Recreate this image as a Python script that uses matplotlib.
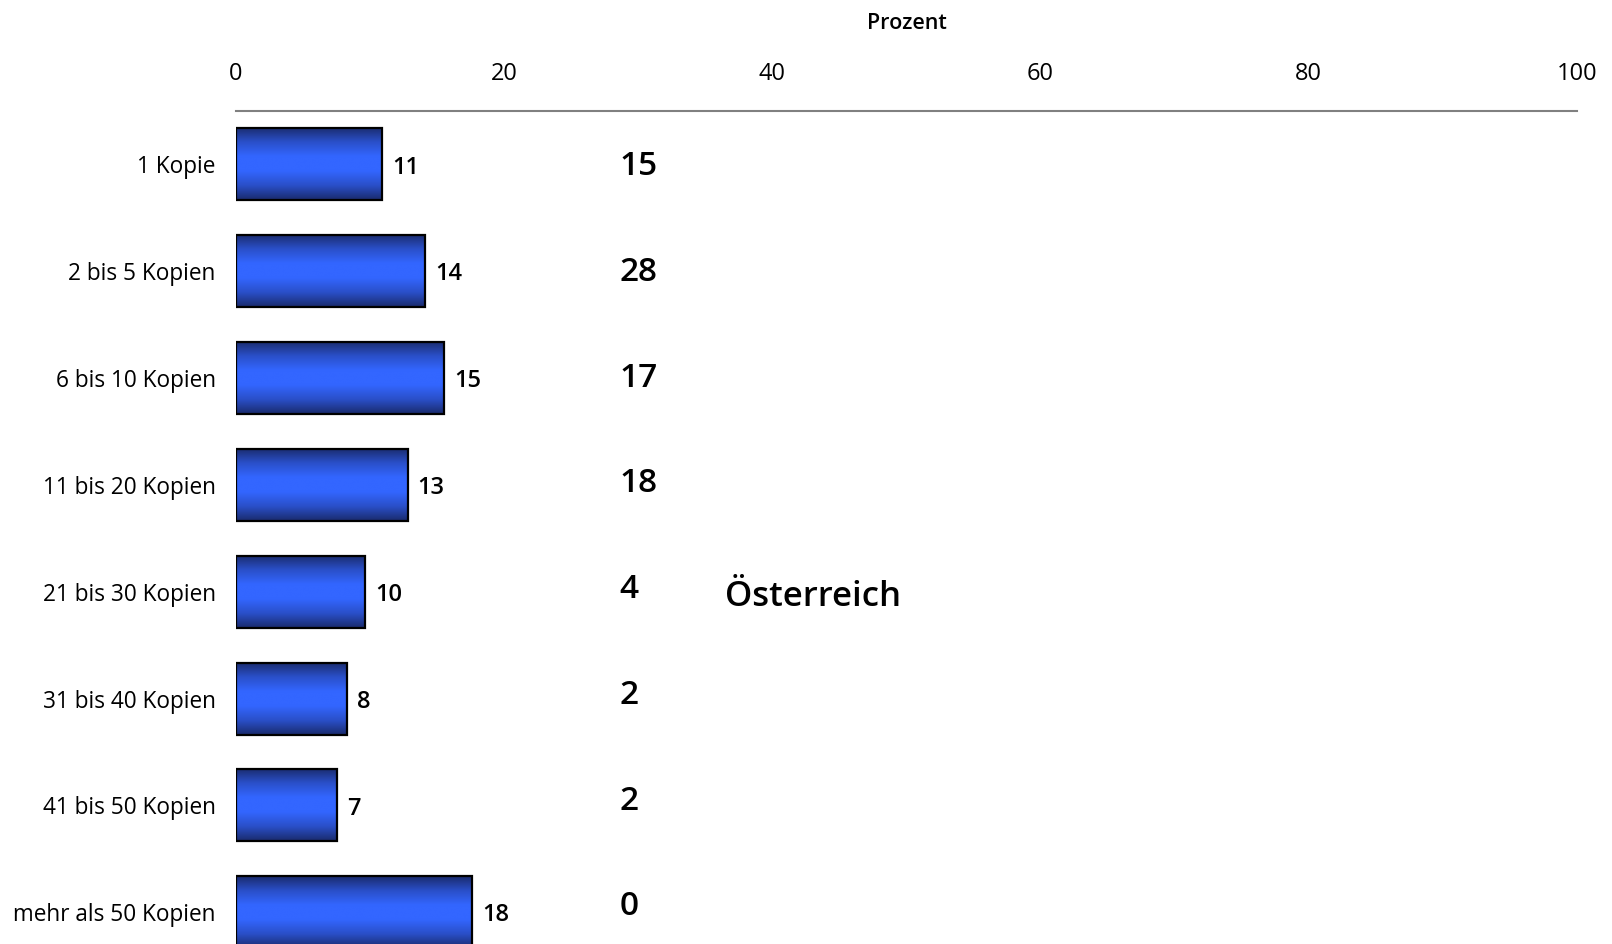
import numpy as np
import matplotlib
matplotlib.use("Agg")
import matplotlib.pyplot as plt
from matplotlib.colors import LinearSegmentedColormap
from matplotlib.patches import Rectangle

plt.rcParams["font.family"] = ["Open Sans", "DejaVu Sans"]

# data
categories = [
    "1 Kopie",
    "2 bis 5 Kopien",
    "6 bis 10 Kopien",
    "11 bis 20 Kopien",
    "21 bis 30 Kopien",
    "31 bis 40 Kopien",
    "41 bis 50 Kopien",
    "mehr als 50 Kopien",
]
# bar lengths as drawn, and the rounded numbers printed next to them
lengths = [10.9, 14.1, 15.5, 12.8, 9.6, 8.3, 7.5, 17.6]
labels = [11, 14, 15, 13, 10, 8, 7, 18]
austria = [15, 28, 17, 18, 4, 2, 2, 0]
x_ticks = [0, 20, 40, 60, 80, 100]

fig = plt.figure(figsize=(16.12, 9.44), dpi=100)
ax = fig.add_axes([0.1464, 0.0, 0.8319, 0.8824])

# vertical gradient for the bars (dark edges, bright middle)
cmap = LinearSegmentedColormap.from_list(
    "bar", ["#1a2b6c", "#2a4fc8", "#3366ff", "#3366ff", "#2a4fc8", "#1a2b6c"]
)
grad = np.linspace(0, 1, 256).reshape(-1, 1)
bar_h = 0.674

for i, v in enumerate(lengths):
    ax.imshow(
        grad,
        cmap=cmap,
        aspect="auto",
        extent=(0, v, i + bar_h / 2, i - bar_h / 2),
        interpolation="bicubic",
        zorder=2,
    )
    ax.add_patch(
        Rectangle((0, i - bar_h / 2), v, bar_h, fill=False,
                  edgecolor="black", linewidth=1.6, zorder=3)
    )
    ax.text(v + 0.75, i + 0.03, str(labels[i]), ha="left", va="center",
            fontsize=17, fontweight="semibold", color="black")
    # second column (Österreich), its rows sit a little tighter than the bars
    ax.text(28.6, 0.02 + i * 0.99, str(austria[i]), ha="left", va="center",
            fontsize=24, fontweight="semibold", color="black")

ax.text(36.5, 4.05, "Österreich", ha="left", va="center",
        fontsize=25, fontweight="semibold", color="black")

ax.set_xlim(0, 100)
ax.set_ylim(7.297, -0.5)
ax.set_yticks(range(len(categories)))
ax.set_yticklabels(categories, fontsize=16.3)
ax.set_xticks(x_ticks)
ax.set_xticklabels([str(t) for t in x_ticks], fontsize=17)
ax.xaxis.tick_top()
ax.xaxis.set_label_position("top")
ax.set_xlabel("Prozent", fontsize=15.5, fontweight="semibold", labelpad=23.5)
ax.tick_params(axis="x", length=0, pad=18)
ax.tick_params(axis="y", length=0, pad=14.5)

for s in ["left", "right", "bottom"]:
    ax.spines[s].set_visible(False)
ax.spines["top"].set_color("#808080")
ax.spines["top"].set_linewidth(1.5)

fig.savefig("out.png", dpi=100)
